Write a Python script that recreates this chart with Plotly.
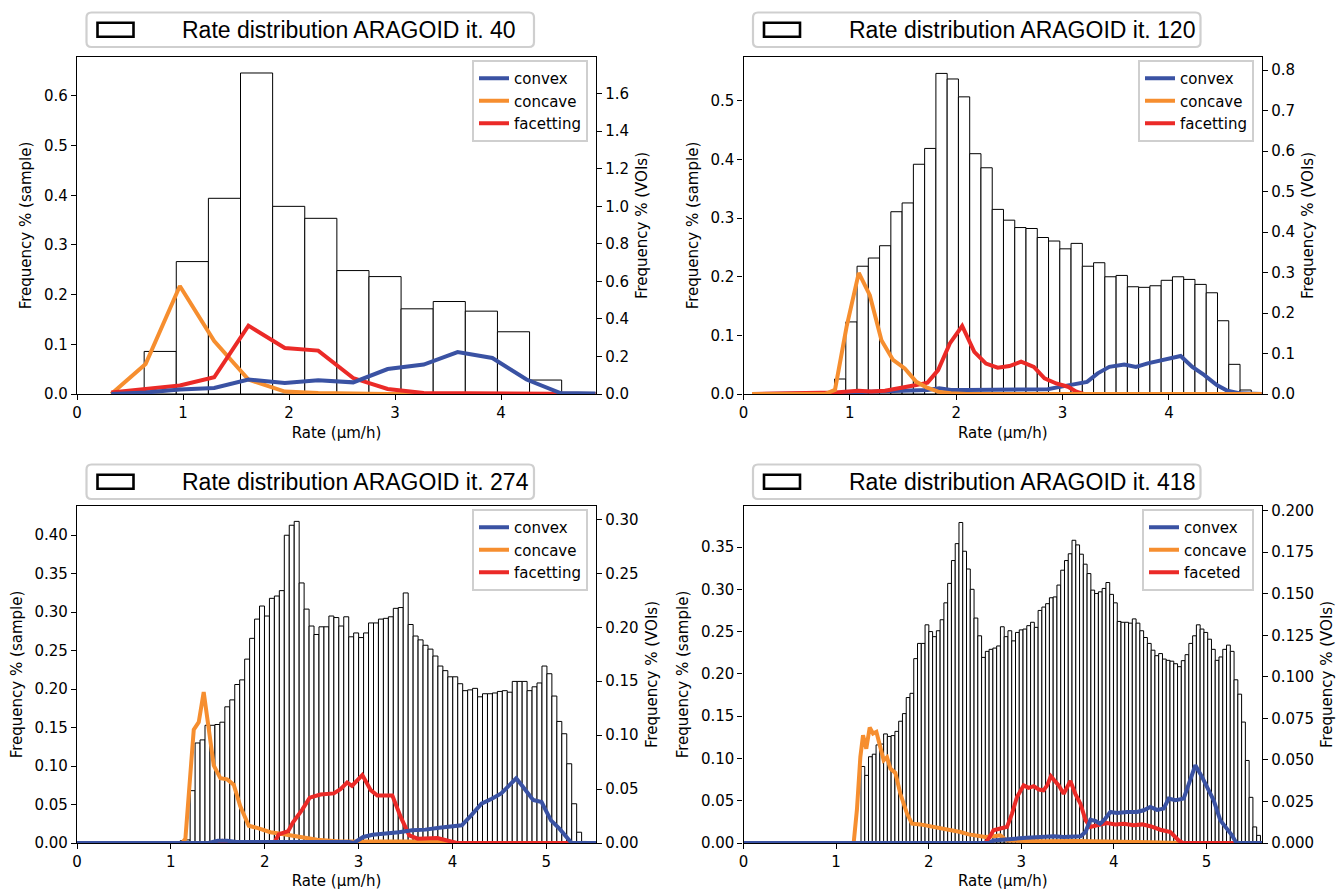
import numpy as np
import plotly.graph_objects as go

# ------------------------------------------------------------------ data
iterations = [40, 120, 274, 418]
line_names = ["convex", "concave", "facetting"]
line_names_418 = ["convex", "concave", "faceted"]

# --- it. 40 : sample histogram (first bin edge, bin width, heights) -> left axis
p1_bin_start, p1_bin_width = 0.3306, 0.3029
p1_hist = [0.004, 0.0857, 0.2666, 0.394, 0.6463, 0.3778, 0.3537, 0.2485,
           0.2364, 0.1715, 0.1862, 0.1668, 0.1253, 0.0281]
# VOI curves -> right axis
p1_line_x = [0.323, 0.647, 0.97, 1.294, 1.617, 1.96, 2.275, 2.605, 2.93, 3.27,
             3.59, 3.917, 4.24, 4.56, 4.89]
p1_convex = [0, 0.008, 0.024, 0.032, 0.077, 0.059, 0.073, 0.062, 0.133, 0.157,
             0.223, 0.192, 0.077, 0.005, 0.002]
p1_concave = [0, 0.160, 0.575, 0.282, 0.077, 0.013, 0.005, 0.001, 0, 0,
              0, 0, 0, 0, 0]
p1_facet = [0.008, 0.024, 0.045, 0.089, 0.364, 0.245, 0.231, 0.085, 0.027, 0.005,
            0.003, 0.001, 0, 0, 0]

# --- it. 120
p2_bin_start, p2_bin_width = 0.75, 0.1059
p2_hist = [0.004, 0.0256, 0.123, 0.218, 0.232, 0.253, 0.311, 0.326, 0.392, 0.419,
           0.547, 0.5375, 0.507, 0.41, 0.386, 0.315, 0.2966, 0.284, 0.2824, 0.267,
           0.261, 0.2477, 0.257, 0.218, 0.224, 0.2, 0.2023, 0.183, 0.182, 0.1847,
           0.194, 0.2, 0.1955, 0.187, 0.1727, 0.125, 0.0506, 0.0068]
p2_concave_x = [0.08, 0.766, 0.86, 0.969, 1.084, 1.1875, 1.297, 1.406, 1.516, 1.625,
                1.72, 1.83, 1.95, 2.1, 4.87]
p2_concave = [0, 0, 0.01, 0.166, 0.299, 0.244, 0.133, 0.084, 0.063, 0.030,
              0.0164, 0.0058, 0.0016, 0, 0]
p2_facet_x = [0.08, 0.766, 0.86, 1.08, 1.2, 1.33, 1.48, 1.625, 1.73, 1.83, 1.94, 2.056,
              2.17, 2.28, 2.39, 2.5, 2.61, 2.73, 2.83, 2.94, 3.05, 3.13, 3.2, 4.87]
p2_facet = [0, 0.0016, 0.004, 0.008, 0.006, 0.008, 0.014, 0.022, 0.028, 0.059, 0.125,
            0.168, 0.104, 0.075, 0.065, 0.069, 0.080, 0.067, 0.0387, 0.026, 0.018,
            0.0058, 0, 0]
p2_convex_x = [0.08, 0.766, 0.86, 1.17, 1.48, 1.73, 1.84, 1.95, 2.1, 2.5, 2.73, 2.86,
               2.95, 3.05, 3.17, 3.23, 3.33, 3.44, 3.58, 3.69, 3.8, 3.92, 4.02, 4.11,
               4.22, 4.33, 4.45, 4.55, 4.67, 4.76, 4.87]
p2_convex = [0, 0, 0.0016, 0.0058, 0.008, 0.01, 0.014, 0.01, 0.01, 0.01, 0.01, 0.012,
             0.0164, 0.022, 0.028, 0.030, 0.051, 0.067, 0.073, 0.067, 0.0757, 0.082,
             0.088, 0.094, 0.067, 0.047, 0.022, 0.008, 0.0016, 0, 0]

# --- it. 274
p3_bin_start, p3_bin_width = 1.10, 0.0528
p3_hist = [0.003, 0.004, 0.068, 0.130, 0.134, 0.153, 0.153, 0.154, 0.157, 0.177,
           0.186, 0.206, 0.212, 0.239, 0.266, 0.291, 0.308, 0.295, 0.318, 0.321,
           0.328, 0.400, 0.413, 0.418, 0.338, 0.304, 0.282, 0.271, 0.281, 0.281,
           0.295, 0.293, 0.282, 0.294, 0.268, 0.273, 0.267, 0.273, 0.286, 0.286,
           0.291, 0.292, 0.294, 0.305, 0.306, 0.325, 0.284, 0.269, 0.264, 0.257,
           0.252, 0.243, 0.230, 0.224, 0.216, 0.216, 0.207, 0.198, 0.199, 0.201,
           0.190, 0.194, 0.194, 0.195, 0.197, 0.198, 0.196, 0.210, 0.210, 0.210,
           0.198, 0.203, 0.208, 0.230, 0.220, 0.191, 0.158, 0.142, 0.103, 0.051,
           0.014, 0.002]
p3_concave_x = [0, 1.12, 1.155, 1.244, 1.297, 1.35, 1.457, 1.528, 1.60, 1.67, 1.74,
                1.83, 1.92, 1.99, 2.06, 2.17, 2.27, 2.42, 2.56, 2.8, 3.2, 3.6, 3.9,
                4.0, 5.53]
p3_concave = [0, 0, 0.004, 0.105, 0.112, 0.140, 0.072, 0.060, 0.059, 0.054, 0.034,
              0.016, 0.014, 0.012, 0.010, 0.0086, 0.0071, 0.005, 0.003, 0.0015,
              0.0015, 0.0015, 0.0015, 0, 0]
p3_facet_x = [0, 1.45, 1.55, 1.65, 2.1, 2.15, 2.25, 2.3, 2.4, 2.48, 2.594, 2.736,
              2.807, 2.878, 2.93, 3.04, 3.13, 3.2, 3.36, 3.45, 3.54, 3.63, 3.84,
              3.98, 4.05, 5.3]
p3_facet = [0, 0, 0.002, 0, 0, 0.008, 0.011, 0.019, 0.031, 0.042, 0.045, 0.046,
            0.050, 0.056, 0.053, 0.063, 0.049, 0.044, 0.044, 0.024, 0.007, 0.004,
            0.0046, 0.001, 0, 0]
p3_convex_x = [0, 1.4, 1.5, 1.6, 1.7, 2.9, 2.95, 3.05, 3.15, 3.29, 3.43, 3.57, 3.71,
               3.86, 4.0, 4.1, 4.2, 4.31, 4.42, 4.52, 4.59, 4.68, 4.77, 4.86, 4.95,
               5.05, 5.14, 5.27, 5.53]
p3_convex = [0, 0, 0.002, 0.002, 0.001, 0.001, 0, 0.0056, 0.0077, 0.0087, 0.010,
             0.0118, 0.0124, 0.0142, 0.0155, 0.0164, 0.0257, 0.0365, 0.041, 0.046,
             0.052, 0.060, 0.050, 0.040, 0.038, 0.021, 0.0133, 0, 0]

# --- it. 418
p4_bin_start, p4_bin_width = 1.269, 0.0407
p4_hist = [0.0905, 0.080, 0.102, 0.105, 0.116, 0.117, 0.129, 0.126, 0.127, 0.132,
           0.144, 0.153, 0.172, 0.177, 0.218, 0.236, 0.236, 0.258, 0.250, 0.244,
           0.251, 0.264, 0.284, 0.307, 0.334, 0.354, 0.379, 0.345, 0.324, 0.300,
           0.266, 0.245, 0.2195, 0.2266, 0.229, 0.2305, 0.233, 0.2557, 0.244, 0.251,
           0.239, 0.249, 0.252, 0.253, 0.257, 0.261, 0.255, 0.275, 0.279, 0.283,
           0.290, 0.291, 0.305, 0.3226, 0.334, 0.342, 0.358, 0.3525, 0.3415, 0.3297,
           0.3186, 0.299, 0.295, 0.297, 0.301, 0.308, 0.294, 0.284, 0.262, 0.261,
           0.261, 0.260, 0.265, 0.260, 0.251, 0.243, 0.236, 0.228, 0.2215, 0.224,
           0.2175, 0.216, 0.215, 0.212, 0.2085, 0.2156, 0.2227, 0.236, 0.245, 0.258,
           0.253, 0.249, 0.241, 0.229, 0.216, 0.220, 0.229, 0.234, 0.2266, 0.193,
           0.176, 0.143, 0.0976, 0.054, 0.019, 0.009]
p4_concave_x = [0, 1.19, 1.225, 1.262, 1.291, 1.326, 1.363, 1.399, 1.435, 1.478,
                1.514, 1.55, 1.586, 1.64, 1.694, 1.766, 1.82, 1.91, 2.018, 2.126,
                2.234, 2.342, 2.432, 2.522, 2.612, 2.702, 2.774, 2.846, 3.2, 3.6,
                4.0, 4.4, 4.7, 5.6]
p4_concave = [0, 0, 0.02, 0.0518, 0.0649, 0.0567, 0.0695, 0.0659, 0.0669, 0.0577,
              0.0498, 0.0516, 0.0448, 0.0422, 0.0296, 0.0177, 0.0116, 0.0112, 0.0101,
              0.0086, 0.0077, 0.0066, 0.0052, 0.0046, 0.0036, 0.004, 0.0046, 0.0015,
              0.001, 0.0012, 0.001, 0.0005, 0, 0]
p4_facet_x = [0, 2.61, 2.648, 2.70, 2.774, 2.846, 2.9, 2.954, 3.026, 3.08, 3.134,
              3.19, 3.24, 3.28, 3.32, 3.368, 3.404, 3.458, 3.53, 3.584, 3.64, 3.694,
              3.746, 3.818, 3.926, 4.016, 4.106, 4.215, 4.305, 4.394, 4.502, 4.61,
              4.7, 4.75, 5.35]
p4_facet = [0, 0, 0.0026, 0.0077, 0.0087, 0.0097, 0.0177, 0.0277, 0.0347, 0.0332,
            0.0342, 0.0322, 0.0317, 0.0347, 0.0402, 0.0368, 0.0347, 0.0296, 0.0373,
            0.0296, 0.0235, 0.0138, 0.0097, 0.0107, 0.012, 0.0112, 0.0116, 0.0107,
            0.0112, 0.0101, 0.008, 0.0066, 0.0015, 0, 0]
p4_convex_x = [0, 2.65, 2.70, 2.88, 3.06, 3.35, 3.458, 3.64, 3.694, 3.746, 3.8, 3.854,
               3.908, 3.962, 4.034, 4.142, 4.25, 4.322, 4.394, 4.466, 4.538, 4.592,
               4.664, 4.754, 4.808, 4.88, 4.952, 5.006, 5.078, 5.15, 5.222, 5.276,
               5.323, 5.6]
p4_convex = [0, 0, 0.0015, 0.0026, 0.0032, 0.004, 0.0036, 0.004, 0.0066, 0.014,
             0.0133, 0.0116, 0.0147, 0.0187, 0.0181, 0.0187, 0.0187, 0.0197, 0.0217,
             0.0199, 0.0207, 0.0267, 0.0257, 0.0267, 0.0357, 0.0468, 0.0398, 0.0337,
             0.0257, 0.0136, 0.0086, 0.0046, 0, 0]

# ------------------------------------------------------------------ layout helpers
W, H = 1339, 890
ML, MR, MT, MB = 77, 77, 57, 47
IW, IH = W - ML - MR, H - MT - MB


def fx(px):
    return (px - ML) / IW


def fy(py):
    return (H - MB - py) / IH


BLUE, ORANGE, RED = "#3a52a3", "#f68e2f", "#eb2a27"
FONT = "DejaVu Sans"
LEGFONT = "Liberation Sans"

# pixel geometry of the four axes boxes: (left, right, top, bottom)
boxes = [(77, 596, 57, 394), (743.5, 1262, 57, 394),
         (77, 596, 506, 843), (743.5, 1262, 506, 843)]

panels = [
    dict(start=p1_bin_start, width=p1_bin_width, hist=p1_hist,
         lines=[(line_names[0], p1_line_x, p1_convex, BLUE, 1),
                (line_names[1], p1_line_x, p1_concave, ORANGE, 2),
                (line_names[2], p1_line_x, p1_facet, RED, 3)],
         order=[1, 2, 0], xmax=4.895, yl=0.6785, yr=1.795,
         ldt=0.1, rdt=0.2, lfmt=".1f", rfmt=".1f"),
    dict(start=p2_bin_start, width=p2_bin_width, hist=p2_hist,
         lines=[(line_names[0], p2_convex_x, p2_convex, BLUE, 1),
                (line_names[1], p2_concave_x, p2_concave, ORANGE, 2),
                (line_names[2], p2_facet_x, p2_facet, RED, 3)],
         order=[0, 2, 1], xmax=4.875, yl=0.575, yr=0.8323,
         ldt=0.1, rdt=0.1, lfmt=".1f", rfmt=".1f"),
    dict(start=p3_bin_start, width=p3_bin_width, hist=p3_hist,
         lines=[(line_names[0], p3_convex_x, p3_convex, BLUE, 1),
                (line_names[1], p3_concave_x, p3_concave, ORANGE, 2),
                (line_names[2], p3_facet_x, p3_facet, RED, 3)],
         order=[1, 2, 0], xmax=5.53, yl=0.438, yr=0.3125,
         ldt=0.05, rdt=0.05, lfmt=".2f", rfmt=".2f"),
    dict(start=p4_bin_start, width=p4_bin_width, hist=p4_hist,
         lines=[(line_names_418[0], p4_convex_x, p4_convex, BLUE, 1),
                (line_names_418[1], p4_concave_x, p4_concave, ORANGE, 2),
                (line_names_418[2], p4_facet_x, p4_facet, RED, 3)],
         order=[1, 2, 0], xmax=5.6, yl=0.3985, yr=0.2028,
         ldt=0.05, rdt=0.025, lfmt=".2f", rfmt=".3f"),
]

fig = go.Figure()
layout = dict(
    width=W, height=H, template="none",
    margin=dict(l=ML, r=MR, t=MT, b=MB, pad=0),
    paper_bgcolor="white", plot_bgcolor="white",
    font=dict(family=FONT, size=15, color="black"),
    showlegend=True, shapes=[], annotations=[],
)

tickcommon = dict(ticks="outside", ticklen=5, tickwidth=1.2, tickcolor="black",
                  showgrid=False, zeroline=False, showline=True, linecolor="black",
                  linewidth=1.3, tickfont=dict(family=FONT, size=15, color="black"),
                  automargin=False)

for k, (p, (bl, br, bt, bb)) in enumerate(zip(panels, boxes), start=1):
    xname = "x" if k == 1 else f"x{k}"
    yl_i, yr_i = 2 * k - 1, 2 * k
    ylname = "y" if yl_i == 1 else f"y{yl_i}"
    yrname = f"y{yr_i}"
    legname = "legend" if k == 1 else f"legend{k}"

    n = len(p["hist"])
    centers = p["start"] + p["width"] * (np.arange(n) + 0.5)
    fig.add_trace(go.Bar(
        x=centers, y=p["hist"], width=p["width"],
        marker=dict(color="white", line=dict(color="black", width=1)),
        xaxis=xname, yaxis=ylname, showlegend=False,
        name=f"Rate distribution ARAGOID it. {iterations[k-1]}"))
    for idx in p["order"]:
        name, lx, ly, col, rank = p["lines"][idx]
        fig.add_trace(go.Scatter(
            x=lx, y=ly, mode="lines", name=name,
            line=dict(color=col, width=4),
            xaxis=xname, yaxis=yrname, legend=legname, legendrank=rank))

    layout[f"xaxis{'' if k == 1 else k}"] = dict(
        tickcommon, domain=[fx(bl), fx(br)], range=[0, p["xmax"]],
        anchor=ylname, mirror=True, tick0=0, dtick=1,
        title=dict(text="Rate (µm/h)", font=dict(family=FONT, size=15), standoff=6))
    layout[f"yaxis{'' if yl_i == 1 else yl_i}"] = dict(
        tickcommon, domain=[fy(bb), fy(bt)], range=[0, p["yl"]],
        anchor=xname, side="left", tick0=0, dtick=p["ldt"], tickformat=p["lfmt"],
        title=dict(text="Frequency % (sample)", font=dict(family=FONT, size=15), standoff=8))
    layout[f"yaxis{yr_i}"] = dict(
        tickcommon, range=[0, p["yr"]], overlaying=ylname, anchor=xname,
        side="right", tick0=0, dtick=p["rdt"], tickformat=p["rfmt"],
        title=dict(text="Frequency % (VOIs)", font=dict(family=FONT, size=15), standoff=8))

    layout[legname] = dict(
        x=fx(br - 8), y=fy(bt + 3), xanchor="right", yanchor="top",
        bgcolor="rgba(255,255,255,0.85)", bordercolor="#cfcfcf", borderwidth=2,
        font=dict(family=FONT, size=15, color="black"), itemwidth=30,
        traceorder="normal", tracegroupgap=0)

    # top "legend" box for the histogram
    top = 12.5 if k <= 2 else 464.5
    x0, x1, y0, y1 = bl + 9.5, bl + 457, top, top + 34.5
    r = 5
    X = fx
    Y = fy
    path = (f"M {X(x0 + r)},{Y(y0)} L {X(x1 - r)},{Y(y0)} Q {X(x1)},{Y(y0)} {X(x1)},{Y(y0 + r)} "
            f"L {X(x1)},{Y(y1 - r)} Q {X(x1)},{Y(y1)} {X(x1 - r)},{Y(y1)} "
            f"L {X(x0 + r)},{Y(y1)} Q {X(x0)},{Y(y1)} {X(x0)},{Y(y1 - r)} "
            f"L {X(x0)},{Y(y0 + r)} Q {X(x0)},{Y(y0)} {X(x0 + r)},{Y(y0)} Z")
    layout["shapes"].append(dict(type="path", path=path, xref="paper", yref="paper",
                                 line=dict(color="#cfcfcf", width=2.2), fillcolor="white"))
    cy = (y0 + y1) / 2
    layout["shapes"].append(dict(type="rect", xref="paper", yref="paper",
                                 x0=fx(x0 + 11), x1=fx(x0 + 47), y0=fy(cy - 7), y1=fy(cy + 7),
                                 line=dict(color="black", width=2.6), fillcolor="white"))
    layout["annotations"].append(dict(
        text=f"Rate distribution ARAGOID it. {iterations[k-1]}", x=fx(x0 + 93.5), y=fy(cy),
        xref="paper", yref="paper", xanchor="left", yanchor="middle", showarrow=False,
        font=dict(family=LEGFONT, size=23, color="black")))

fig.update_layout(**layout)
fig.write_html("out.html")
